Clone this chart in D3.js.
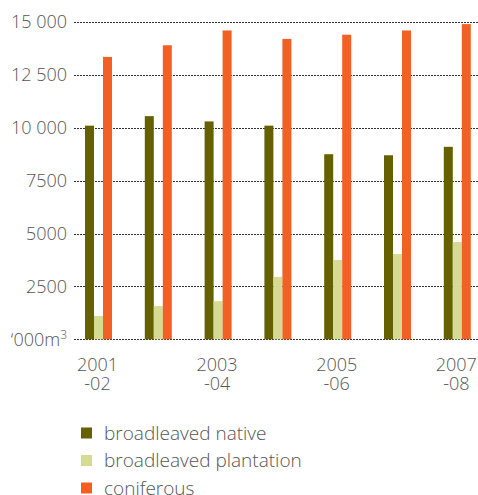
<!DOCTYPE html>
<html><head><meta charset="utf-8">
<script src="https://cdn.jsdelivr.net/npm/d3@7"></script>
<style>
html,body{margin:0;padding:0;background:#fff;}
svg{display:block;font-family:"Open Sans",sans-serif;}
</style></head>
<body>
<svg id="chart" width="478" height="495"></svg>
<script>
const categories = ["2001-02","2002-03","2003-04","2004-05","2005-06","2006-07","2007-08"];
const xLabelTop = ["2001","","2003","","2005","","2007"];
const xLabelBottom = ["-02","","-04","","-06","","-08"];
const seriesNames = ["broadleaved native","broadleaved plantation","coniferous"];
const broadleavedNative = [10100,10550,10300,10100,8750,8700,9100];
const broadleavedPlantation = [1100,1570,1800,2950,3750,4030,4600];
const coniferous = [13350,13900,14600,14200,14400,14600,14900];
const yTicks = [0,2500,5000,7500,10000,12500,15000];
const yTickLabels = ["\u2018000m\u00b3","2500","5000","7500","10 000","12 500","15 000"];
const colors = ["#666100","#d5db92","#f26024"];

const seriesValues = [broadleavedNative, broadleavedPlantation, coniferous];
const svg = d3.select("#chart");
const textColor = "#555";

const y = d3.scaleLinear().domain([0,15000]).range([339.3,22]);
const p = 1 - 27/59.8;
const x = d3.scaleBand().domain(categories).range([68.6, 68.6+7*59.8]).paddingInner(p).paddingOuter(p/2);
const xs = d3.scaleBand().domain(seriesNames).range([0, x.bandwidth()]).padding(0);

// gridlines
const grid = svg.append("g");
grid.selectAll("line").data(yTicks).join("line")
  .attr("x1",74).attr("x2",478)
  .attr("y1",d=>Math.round(y(d))+0.5).attr("y2",d=>Math.round(y(d))+0.5)
  .attr("stroke","#333").attr("stroke-width",1).attr("stroke-dasharray","2,1");

// y labels
const yl = svg.append("g").attr("font-size",18).attr("fill",textColor).attr("text-anchor","end").attr("font-weight",300);
yTicks.forEach((t,i)=>{
  const tx = yl.append("text").attr("x",67).attr("y",y(t)).attr("dy","0.35em");
  if(i===0){
    tx.append("tspan").text("\u2018000m");
    tx.append("tspan").attr("font-size",12).attr("dy","-0.55em").text("3");
  } else tx.text(yTickLabels[i]);
});

// bars
const groups = svg.append("g").selectAll("g").data(categories).join("g")
  .attr("transform",d=>`translate(${x(d)},0)`);
groups.selectAll("rect").data((d,i)=>seriesNames.map((s,j)=>({s,v:seriesValues[j][i],j}))).join("rect")
  .attr("x",d=>xs(d.s)).attr("width",xs.bandwidth())
  .attr("y",d=>y(d.v)).attr("height",d=>y(0)-y(d.v))
  .attr("fill",d=>colors[d.j]);

// x labels
const xl = svg.append("g").attr("font-size",18).attr("fill",textColor).attr("text-anchor","middle").attr("font-weight",300);
categories.forEach((c,i)=>{
  if(!xLabelTop[i]) return;
  const cx = x(c)+x.bandwidth()/2 - 1;
  const t = xl.append("text").attr("x",cx).attr("y",371);
  t.append("tspan").attr("x",cx).text(xLabelTop[i]);
  t.append("tspan").attr("x",cx).attr("dy",19).text(xLabelBottom[i]);
});

// legend
const lg = svg.append("g");
seriesNames.forEach((s,i)=>{
  const cy = 433 + i*27.5;
  lg.append("rect").attr("x",81).attr("y",cy-5.5).attr("width",11).attr("height",11).attr("fill",colors[i]);
  lg.append("text").attr("x",104).attr("y",cy).attr("dy","0.35em").attr("font-size",19).attr("font-weight",300).attr("fill",textColor).text(s);
});
</script>
</body></html>
